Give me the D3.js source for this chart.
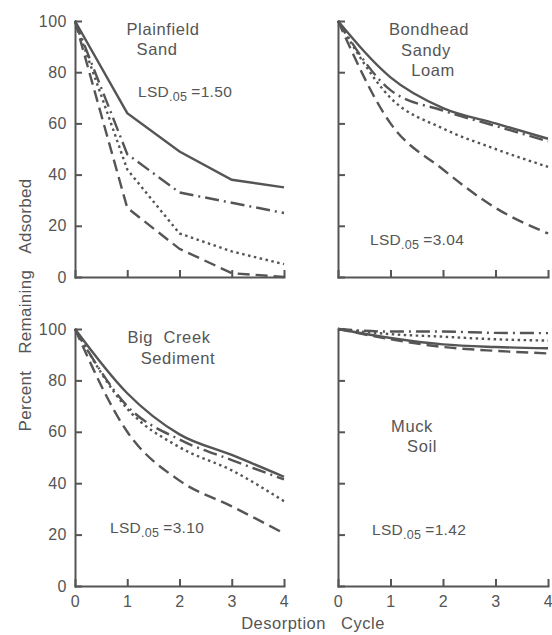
<!DOCTYPE html>
<html>
<head>
<meta charset="utf-8">
<script src="https://cdn.jsdelivr.net/npm/d3@7"></script>
<style>
	html, body { margin: 0; padding: 0; background: #fff; }
	svg { display: block; font-family: "Liberation Sans", Arial, sans-serif; }
	.axis path, .axis line { stroke: #555; stroke-width: 2; }
	.axis text { fill: #555; font-size: 16px; letter-spacing: 0.5px; font-family: "Liberation Sans", Arial, sans-serif; }
	.label { fill: #555; }
</style>
</head>
<body>
<div id="chart"></div>
<script>
// desorption cycles on x
var cycles = [0, 1, 2, 3, 4];
var yTicks = [0, 20, 40, 60, 80, 100];

// series order in each panel: solid, dash-dot, dotted, dashed
var plainfieldSand = [
	[100, 64, 49, 38, 35],
	[100, 48, 33, 29, 25],
	[100, 42, 17, 10, 5],
	[100, 27, 11, 1.5, 0]
];
var bondheadLoam = [
	[100, 78, 66, 60, 54],
	[100, 73, 65, 59, 53],
	[100, 70, 58, 50, 43],
	[100, 60, 42, 27, 17]
];
var bigCreekSediment = [
	[100, 75, 59, 51, 42.5],
	[100, 70, 57, 49, 41.5],
	[100, 69, 54, 45, 33],
	[100, 60, 41, 31, 20.5]
];
var muckSoil = [
	[100, 96.5, 94, 93, 92.5],
	[100, 99, 99, 98.5, 98.4],
	[100, 98, 97, 96, 95.5],
	[100, 96, 93, 91.5, 90.5]
];

var panelNames = [['Plainfield', 'Sand'], ['Bondhead', 'Sandy', 'Loam'], ['Big  Creek', 'Sediment'], ['Muck', 'Soil']];
var lsdValues = ['1.50', '3.04', '3.10', '1.42'];

(function(d3){
	'use strict';

	var W = 552, H = 635;
	var dashes = [null, '14,5,2,5', '2.5,3.5', '12,6'];

	var svg = d3.select('#chart').append('svg')
		.attr('width', W).attr('height', H);

	// panel boxes and text spots
	var panels = [
		{ data: plainfieldSand, x: [75, 284], y: [277, 21], xLabels: false, yLabels: true,
			curve: d3.curveLinear,
			title: { x: [163, 157], y: 35, step: 20 }, lsd: { x: 138, y: 97 } },
		{ data: bondheadLoam, x: [338, 548], y: [277, 21], xLabels: false, yLabels: false,
			curve: d3.curveMonotoneX,
			title: { x: [429, 426, 433], y: 35, step: 20.5 }, lsd: { x: 370, y: 245 } },
		{ data: bigCreekSediment, x: [75, 284], y: [586, 329], xLabels: true, yLabels: true,
			curve: d3.curveMonotoneX,
			title: { x: [169, 178], y: 343, step: 21 }, lsd: { x: 110, y: 533 } },
		{ data: muckSoil, x: [338, 548], y: [586, 329], xLabels: true, yLabels: false,
			curve: d3.curveMonotoneX,
			title: { x: [412, 422], y: 432, step: 20 }, lsd: { x: 372, y: 535 } }
	];

	panels.forEach(function(p, i){ drawPanel(p, i); });

	// shared axis titles
	svg.append('text')
		.attr('class', 'label')
		.attr('transform', 'translate(31,305) rotate(-90)')
		.attr('text-anchor', 'middle')
		.style('font-size', '17px')
		.style('letter-spacing', '0.3px')
		.style('word-spacing', '12px')
		.text('Percent Remaining Adsorbed');

	svg.append('text')
		.attr('class', 'label')
		.attr('x', 313).attr('y', 629)
		.attr('text-anchor', 'middle')
		.style('font-size', '16.5px')
		.style('letter-spacing', '0.5px')
		.style('word-spacing', '10px')
		.text('Desorption Cycle');

	function drawPanel(p, idx){
		var xScale = d3.scaleLinear().domain([0, 4]).range(p.x);
		var yScale = d3.scaleLinear().domain([0, 100]).range(p.y);
		var g = svg.append('g');

		var xAxis = d3.axisBottom(xScale)
			.tickValues(cycles)
			.tickSizeInner(-7).tickSizeOuter(0).tickPadding(10)
			.tickFormat(p.xLabels ? d3.format('d') : function(){ return ''; });
		var yAxis = d3.axisLeft(yScale)
			.tickValues(yTicks)
			.tickSizeInner(-7).tickSizeOuter(0).tickPadding(8)
			.tickFormat(p.yLabels ? d3.format('d') : function(){ return ''; });

		g.append('g').attr('class', 'axis')
			.attr('transform', 'translate(0,' + p.y[0] + ')')
			.call(xAxis);
		g.append('g').attr('class', 'axis')
			.attr('transform', 'translate(' + p.x[0] + ',0)')
			.call(yAxis);
		g.selectAll('.axis path').attr('stroke-linecap', 'square');

		var line = d3.line()
			.curve(p.curve)
			.x(function(d, i){ return xScale(cycles[i]); })
			.y(function(d){ return yScale(d); });

		g.selectAll('path.series')
			.data(p.data)
			.enter().append('path')
			.attr('class', 'series')
			.attr('fill', 'none')
			.attr('stroke', '#555')
			.attr('stroke-width', 2.4)
			.attr('stroke-dasharray', function(d, i){ return dashes[i]; })
			.attr('d', line);

		// panel name
		var names = panelNames[idx];
		g.selectAll('text.title')
			.data(names)
			.enter().append('text')
			.attr('class', 'label title')
			.attr('x', function(d, i){ return p.title.x[i]; })
			.attr('y', function(d, i){ return p.title.y + i * p.title.step; })
			.attr('text-anchor', 'middle')
			.style('font-size', '16.5px')
			.style('letter-spacing', '0.6px')
			.style('white-space', 'pre')
			.text(function(d){ return d; });

		// LSD note
		var lsd = g.append('text')
			.attr('class', 'label')
			.attr('x', p.lsd.x).attr('y', p.lsd.y)
			.style('font-size', '15.5px')
			.style('letter-spacing', '0.3px');
		lsd.append('tspan').text('LSD');
		lsd.append('tspan').attr('dy', 4).style('font-size', '12.5px').text('.05');
		lsd.append('tspan').attr('dy', -4).attr('dx', 4).text('=' + lsdValues[idx]);
	}

})(window.d3);
</script>
</body>
</html>
